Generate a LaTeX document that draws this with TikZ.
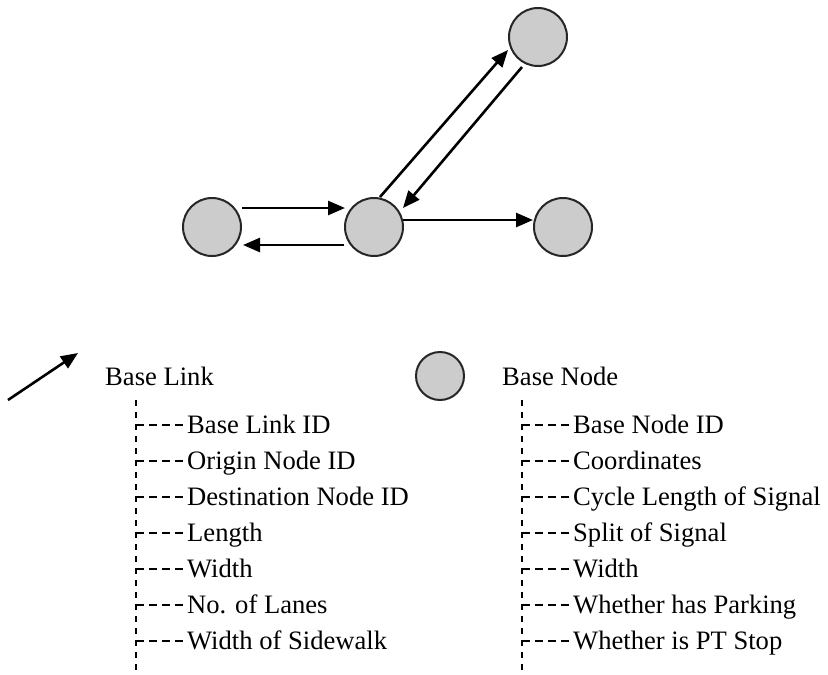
\documentclass[tikz,border=0pt]{standalone}
\usepackage{fontspec}
\setmainfont{Liberation Serif}
\usetikzlibrary{arrows.meta,calc}
\begin{document}
\begin{tikzpicture}[x=1pt,y=-1pt,
 gnode/.style={circle, draw=black!85, line width=2pt, fill=gray!40, minimum size=58pt, inner sep=0pt},
 lnk/.style={line width=2.6pt, -{Triangle[length=17pt,width=14pt]}},
 lbl/.style={font=\fontsize{26.6}{30}\selectfont, anchor=base west, inner sep=0pt},
 trunk/.style={dash pattern=on 6pt off 6pt, line width=1.6pt},
 twig/.style={dash pattern=on 8pt off 5pt, line width=1.6pt, shorten >=3pt}]
\useasboundingbox (0,0) rectangle (828,675);
\fill[white] (0,0) rectangle (828,675);
% graph
\node[gnode] (A) at (212,227) {};
\node[gnode] (B) at (374,227) {};
\node[gnode] (C) at (563,227) {};
\node[gnode] (D) at (538,37) {};
\draw[lnk] ($(A.center)+(30,-19)$) -- ($(B.center)+(-29,-19)$);
\draw[lnk] ($(B.center)+(-30,18)$) -- ($(A.center)+(31,18)$);
\draw[lnk] ($(B.center)+(29,-7)$) -- ($(C.center)+(-30,-7)$);
\draw[lnk] ($(B.center)+(6,-30)$) -- ($(D.center)+(-30,13)$);
\draw[lnk] ($(D.center)+(-16,30)$) -- ($(B.center)+(29,-19)$);
% legend
\coordinate (la1) at (8,400);
\coordinate (la2) at (78,353);
\draw[lnk] (la1) -- (la2);
\node[gnode, minimum size=48pt] (LN) at (440,376) {};
\node[lbl] (BL) at (105,385) {Base Link};
\node[lbl] (BN) at (502,385) {Base Node};
% trees
\coordinate (t1) at (136,400);
\coordinate (t1e) at (136,675);
\coordinate (t2) at (522,400);
\coordinate (t2e) at (522,675);
\draw[trunk] (t1) -- (t1e);
\draw[trunk] (t2) -- (t2e);
\foreach \t [count=\i] in {Base Link ID,Origin Node ID,Destination Node ID,Length,Width,No. of Lanes,Width of Sidewalk}{
  \node[lbl] (L\i) at (187,{433+36*(\i-1)}) {\t};
  \draw[twig] ($(t1 |- L\i.base west)+(0,-8)$) -- ($(L\i.base west)+(0,-8)$);
}
\foreach \t [count=\i] in {Base Node ID,Coordinates,Cycle Length of Signal,Split of Signal,Width,Whether has Parking,Whether is PT Stop}{
  \node[lbl] (N\i) at (573,{433+36*(\i-1)}) {\t};
  \draw[twig] ($(t2 |- N\i.base west)+(0,-8)$) -- ($(N\i.base west)+(0,-8)$);
}
\end{tikzpicture}
\end{document}
